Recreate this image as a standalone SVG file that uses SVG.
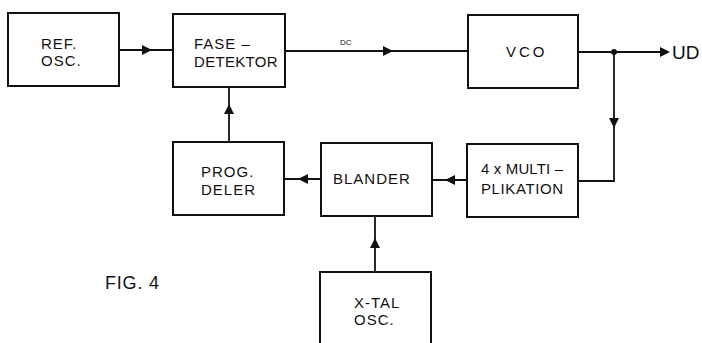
<svg xmlns="http://www.w3.org/2000/svg" width="702" height="343" viewBox="0 0 702 343">
<defs>
<style>
.box{fill:#fff;stroke:#111;stroke-width:2}
.ln{fill:none;stroke:#111;stroke-width:1.8}
.t{font-family:"Liberation Sans",Arial,sans-serif;font-size:15px;fill:#111;letter-spacing:1px}
</style>
</defs>
<rect width="702" height="343" fill="#fff"/>
<g id="connectors">
<line class="ln" x1="119" y1="50" x2="173" y2="50"/>
<path d="M142,45 L152,50 L142,55 Z" fill="#111"/>
<line class="ln" x1="285" y1="51" x2="468" y2="51"/>
<path d="M383,46 L393,51 L383,56 Z" fill="#111"/>
<line class="ln" x1="578" y1="52" x2="660" y2="52"/>
<path d="M660,47 L670,52 L660,57 Z" fill="#111"/>
<circle cx="614" cy="52" r="3" fill="#111"/>
<polyline class="ln" points="614,52 614,181 578,181"/>
<path d="M609,118 L614,128 L619,118 Z" fill="#111"/>
<line class="ln" x1="467" y1="180" x2="432" y2="180"/>
<path d="M455,175 L445,180 L455,185 Z" fill="#111"/>
<line class="ln" x1="321" y1="179" x2="284" y2="179"/>
<path d="M308,174 L298,179 L308,184 Z" fill="#111"/>
<line class="ln" x1="229" y1="142" x2="229" y2="87"/>
<path d="M224,114 L229,104 L234,114 Z" fill="#111"/>
<line class="ln" x1="375" y1="272" x2="375" y2="216"/>
<path d="M370,248 L375,238 L380,248 Z" fill="#111"/>
<text x="340" y="45" style="font-family:'Liberation Sans',Arial,sans-serif;font-size:8px;fill:#111">DC</text>
<text x="672" y="59" style="font-family:'Liberation Sans',Arial,sans-serif;font-size:19px;fill:#111">UD</text>
</g>
<g id="ref-osc">
<rect class="box" x="8" y="13" width="111" height="73"/>
<text class="t" x="41" y="49">REF.</text>
<text class="t" x="41" y="66">OSC.</text>
</g>
<g id="fase-detektor">
<rect class="box" x="173" y="14" width="112" height="73"/>
<text class="t" x="194" y="49">FASE –</text>
<text class="t" x="194" y="67" style="letter-spacing:0.3px">DETEKTOR</text>
</g>
<g id="vco">
<rect class="box" x="468" y="15" width="110" height="73"/>
<text class="t" x="506" y="57" style="letter-spacing:3px">VCO</text>
</g>
<g id="multiplikation">
<rect class="box" x="467" y="144" width="111" height="73"/>
<text class="t" x="481" y="174" style="letter-spacing:0" textLength="82" lengthAdjust="spacing">4 x MULTI –</text>
<text class="t" x="481" y="194" style="letter-spacing:0.6px">PLIKATION</text>
</g>
<g id="blander">
<rect class="box" x="321" y="143" width="111" height="73"/>
<text class="t" x="333" y="184">BLANDER</text>
</g>
<g id="prog-deler">
<rect class="box" x="173" y="142" width="111" height="73"/>
<text class="t" x="201" y="177">PROG.</text>
<text class="t" x="201" y="195">DELER</text>
</g>
<g id="xtal-osc">
<rect class="box" x="320" y="272" width="111" height="80"/>
<text class="t" x="354" y="308">X-TAL</text>
<text class="t" x="354" y="325">OSC.</text>
</g>
<text x="105" y="289" style="font-family:'Liberation Sans',Arial,sans-serif;font-size:18px;fill:#111;letter-spacing:0.8px">FIG. 4</text>
</svg>
